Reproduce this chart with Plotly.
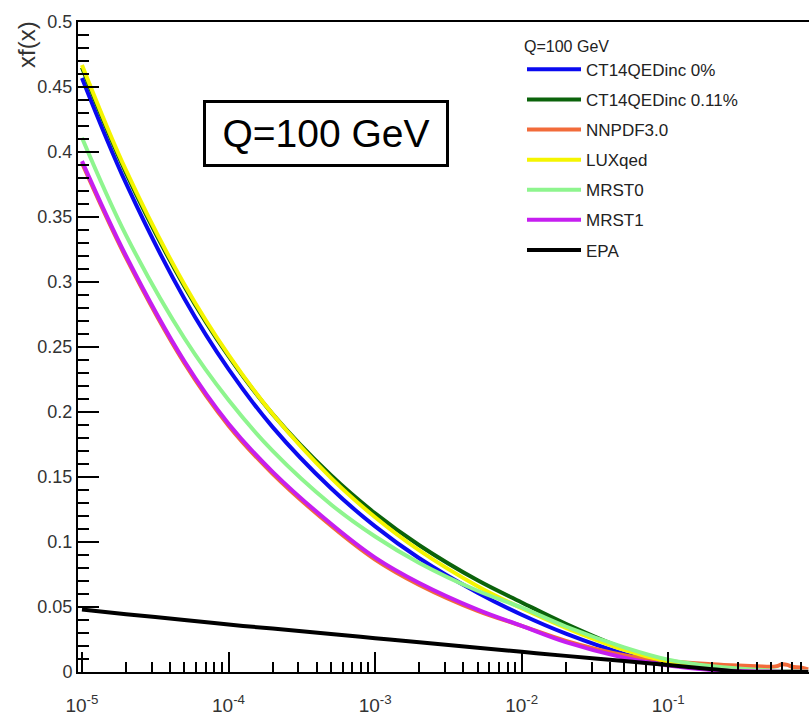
import plotly.graph_objects as go

x_vals = [1e-5, 2e-5, 5e-5, 1e-4, 2e-4, 5e-4, 1e-3, 2e-3, 5e-3, 1e-2, 2e-2, 5e-2, 1e-1, 2e-1, 5e-1, 0.9]

ct14_0 = [0.457, 0.3758, 0.2871, 0.2329, 0.1884, 0.1413, 0.1120, 0.0875, 0.0610, 0.0440, 0.0295, 0.014, 0.006, 0.002, 0.0005, 0.0001]
ct14_011 = [0.465, 0.3838, 0.2966, 0.2429, 0.1984, 0.1513, 0.1220, 0.0975, 0.0705, 0.0535, 0.037, 0.018, 0.008, 0.003, 0.0008, 0.0002]
luxqed = [0.467, 0.3858, 0.2981, 0.2439, 0.1984, 0.1493, 0.1190, 0.0935, 0.0660, 0.0490, 0.034, 0.017, 0.008, 0.003, 0.0008, 0.0002]
mrst0 = [0.411, 0.3359, 0.2567, 0.2092, 0.1701, 0.1289, 0.1042, 0.0839, 0.0625, 0.0496, 0.035, 0.019, 0.0095, 0.0045, 0.0012, 0.0003]
mrst1 = [0.393, 0.3200, 0.2390, 0.1910, 0.1540, 0.1140, 0.0880, 0.0685, 0.0480, 0.0355, 0.023, 0.011, 0.005, 0.0015, 0.0003, 0.0001]

epa_x = [1e-5, 2e-5, 5e-5, 1e-4, 2e-4, 5e-4, 1e-3, 2e-3, 5e-3, 1e-2, 2e-2, 5e-2, 1e-1, 2e-1, 3e-1, 5e-1, 0.9]
epa = [0.048, 0.0445, 0.0400, 0.0365, 0.0334, 0.0292, 0.0260, 0.0228, 0.0187, 0.0155, 0.0124, 0.0084, 0.0054, 0.0022, 0.0004, 0.0, 0.0]

nnpdf_x = [1e-5, 2e-5, 5e-5, 1e-4, 2e-4, 5e-4, 1e-3, 2e-3, 5e-3, 1e-2, 2e-2, 5e-2, 1e-1, 2e-1, 0.3, 0.4, 0.5, 0.55, 0.6, 0.65, 0.7, 0.8, 0.9]
nnpdf = [0.3915, 0.3185, 0.2375, 0.1895, 0.1525, 0.1125, 0.0865, 0.0670, 0.0470, 0.0355, 0.024, 0.013, 0.0085, 0.006, 0.005, 0.0045, 0.004, 0.0045, 0.006, 0.0055, 0.004, 0.0035, 0.002]

series = [
    ("CT14QEDinc 0%", x_vals, ct14_0, "#0a0af0"),
    ("CT14QEDinc 0.11%", x_vals, ct14_011, "#0b630b"),
    ("NNPDF3.0", nnpdf_x, nnpdf, "#f26b3a"),
    ("LUXqed", x_vals, luxqed, "#f5f500"),
    ("MRST0", x_vals, mrst0, "#8ef58e"),
    ("MRST1", x_vals, mrst1, "#c61ef0"),
    ("EPA", epa_x, epa, "#000000"),
]

x_major = [1e-5, 1e-4, 1e-3, 1e-2, 1e-1]
x_major_text = ["10<sup>-5</sup>", "10<sup>-4</sup>", "10<sup>-3</sup>", "10<sup>-2</sup>", "10<sup>-1</sup>"]
x_minor = [m * d for d in [1e-5, 1e-4, 1e-3, 1e-2, 1e-1] for m in range(2, 10)]
y_major = [0, 0.05, 0.1, 0.15, 0.2, 0.25, 0.3, 0.35, 0.4, 0.45, 0.5]
y_major_text = ["0", "0.05", "0.1", "0.15", "0.2", "0.25", "0.3", "0.35", "0.4", "0.45", "0.5"]
y_minor = [i / 100 for i in range(0, 51)]

NARROW = "Liberation Sans Narrow, Arial Narrow, Liberation Sans, Arial, sans-serif"

fig = go.Figure()
for i, (name, xs, ys, col) in enumerate(series):
    fig.add_trace(go.Scatter(x=xs, y=ys, name=name, mode="lines",
                             line=dict(color=col, width=4, shape="spline", smoothing=1.0),
                             legendgroup=str(i)))

fig.update_layout(
    width=809, height=723,
    margin=dict(l=78, r=0, t=22, b=51),
    plot_bgcolor="white", paper_bgcolor="white",
    font=dict(family=NARROW, color="#333333"),
    showlegend=True,
    legend=dict(x=(522 - 78) / 731, y=(672 - 31) / 650, xanchor="left", yanchor="top",
                bgcolor="rgba(0,0,0,0)", itemwidth=54,
                title=dict(text="Q=100 GeV", font=dict(size=16, family=NARROW, color="#222222")),
                font=dict(size=17, family=NARROW, color="#222222"),
                tracegroupgap=5),
    xaxis=dict(type="log", range=[-5.027, -0.040],
               showgrid=False, zeroline=False,
               showline=True, linecolor="black", linewidth=2, mirror=True,
               ticks="inside", ticklen=20, tickwidth=1.5, tickcolor="black",
               tickvals=x_major, ticktext=x_major_text, ticklabelstandoff=15,
               tickfont=dict(size=19, family=NARROW, color="#333333"),
               minor=dict(tickvals=x_minor, ticks="inside", ticklen=10, tickwidth=1.5, tickcolor="black")),
    yaxis=dict(range=[0, 0.5],
               showgrid=False, zeroline=False,
               showline=True, linecolor="black", linewidth=2,
               ticks="inside", ticklen=21, tickwidth=1.5, tickcolor="black",
               tickvals=y_major, ticktext=y_major_text,
               tickfont=dict(size=18, family=NARROW, color="#333333"),
               minor=dict(tickvals=y_minor, ticks="inside", ticklen=11, tickwidth=1.5, tickcolor="black")),
)

fig.add_annotation(text="xf(x)", textangle=-90, xref="paper", yref="paper",
                   x=(27 - 78) / 731, y=(672 - 45) / 650, xanchor="center", yanchor="middle", showarrow=False,
                   font=dict(size=24, family=NARROW, color="#333333"))

fig.add_annotation(text="Q=100 GeV", xref="paper", yref="paper",
                   x=(326 - 78) / 731, y=(672 - 133.5) / 650, xanchor="center", yanchor="middle",
                   showarrow=False, bordercolor="black", borderwidth=3, borderpad=0,
                   bgcolor="white", width=240, height=61,
                   font=dict(size=39, family="Liberation Sans, Arial, sans-serif", color="black"))

fig.write_html("out.html")
